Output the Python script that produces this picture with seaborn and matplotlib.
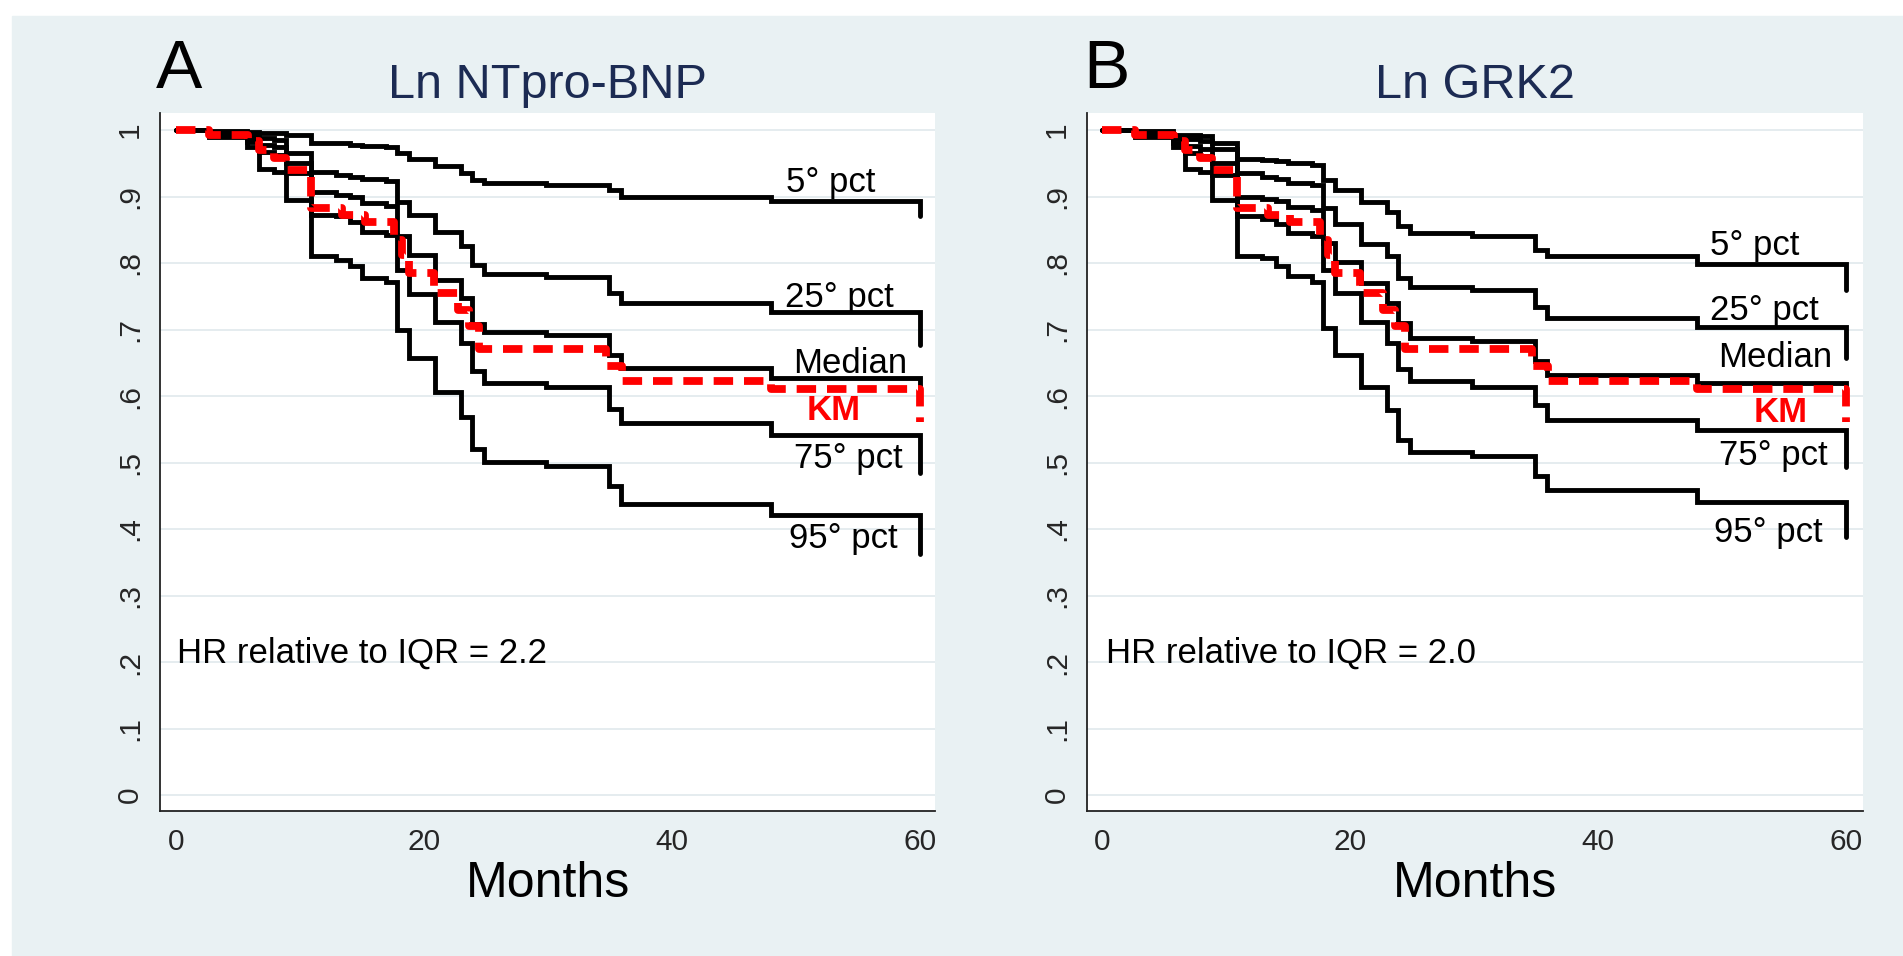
import pandas as pd
import seaborn as sns
import matplotlib.pyplot as plt
from matplotlib.patches import Rectangle

# event times (months) shared by the adjusted survival curves
months = [0, 2.7, 5.7, 6.7, 7.9, 8.9, 10.9, 12.9, 14.0, 15.0, 16.9, 17.8, 18.8,
          20.9, 23.0, 23.9, 24.8, 29.8, 34.9, 35.9, 48.0, 60.0]

# panel A: Ln NTpro-BNP
a_p5 = [1, .999, .997, .996, .995, .992, .981, .980, .977, .976, .974, .965, .957,
        .946, .936, .925, .920, .917, .910, .900, .893, .870]
a_p25 = [1, .997, .993, .988, .985, .965, .937, .932, .929, .926, .923, .892, .872,
         .847, .825, .797, .784, .779, .755, .740, .726, .677]
a_med = [1, .995, .988, .978, .974, .950, .907, .903, .899, .890, .886, .841, .812,
         .774, .747, .709, .697, .692, .662, .642, .627, .600]
a_p75 = [1, .993, .982, .967, .962, .935, .872, .870, .862, .847, .842, .789, .754,
         .712, .679, .637, .619, .613, .581, .559, .542, .484]
a_p95 = [1, .990, .975, .942, .937, .895, .810, .805, .795, .777, .772, .699, .657,
         .606, .569, .521, .501, .495, .464, .438, .421, .363]

# panel B: Ln GRK2
b_p5 = [1, .998, .993, .992, .991, .981, .957, .955, .953, .950, .948, .925, .910,
        .892, .877, .855, .845, .840, .820, .810, .798, .759]
b_p25 = [1, .996, .990, .986, .983, .971, .935, .930, .927, .920, .917, .882, .858,
         .829, .810, .777, .764, .759, .734, .717, .704, .657]
b_med = [1, .994, .986, .976, .972, .950, .900, .897, .893, .885, .880, .830, .802,
         .770, .740, .710, .687, .682, .652, .632, .619, .598]
b_p75 = [1, .992, .981, .966, .961, .932, .870, .866, .858, .845, .840, .790, .755,
         .712, .680, .640, .622, .614, .586, .564, .549, .494]
b_p95 = [1, .990, .975, .942, .937, .895, .810, .807, .795, .780, .772, .702, .662,
         .614, .579, .534, .516, .510, .479, .459, .441, .388]

# Kaplan-Meier estimate (same cohort in both panels)
km_months = [0, 2.7, 5.8, 6.7, 7.9, 8.9, 10.9, 13.4, 15.2, 17.6, 18.2, 18.8, 20.8,
             22.7, 23.6, 24.4, 34.7, 36.0, 48.0, 60.0]
km_surv = [1, .992, .984, .970, .958, .940, .882, .872, .862, .835, .812, .785, .755,
           .730, .705, .671, .645, .623, .610, .561]

curve_names = ["5° pct", "25° pct", "Median", "75° pct", "95° pct"]
y_ticks = [0, .1, .2, .3, .4, .5, .6, .7, .8, .9, 1]
y_labels = ["0", ".1", ".2", ".3", ".4", ".5", ".6", ".7", ".8", ".9", "1"]
x_ticks = [0, 20, 40, 60]

BG = "#E9F1F3"
NAVY = "#1C2B53"

sns.set_style("white")
plt.rcParams["font.family"] = ["Liberation Sans", "DejaVu Sans"]

W, H = 1903, 956
fig = plt.figure(figsize=(W / 100, H / 100), dpi=100, facecolor="white")
fig.patches.append(Rectangle((12 / W, 0), 1, 940 / H, transform=fig.transFigure,
                             color=BG, zorder=-10))


def panel(left, right, xlim, curves, letter, title, hr_text, labels, hr_x):
    ax = fig.add_axes([left / W, 1 - 811 / H, (right - left) / W, 698 / H])
    ax.set_facecolor("white")
    for vals in curves:
        sns.lineplot(x=months, y=vals, ax=ax, drawstyle="steps-post", color="black",
                     estimator=None, sort=False)
    n_black = len(ax.lines)
    sns.lineplot(x=km_months, y=km_surv, ax=ax, drawstyle="steps-post", color="red",
                 estimator=None, sort=False)
    for i, line in enumerate(ax.lines):
        if i < n_black:
            line.set_linewidth(3.5)
            line.set_solid_joinstyle("miter")
        else:
            line.set_linewidth(5.6)
            line.set_linestyle((0, (2.5, 1.4)))
            line.set_dash_capstyle("butt")
            line.set_zorder(5)

    ax.set_xlim(xlim)
    ax.set_ylim(-0.024, 1.0256)
    ax.set_xticks(x_ticks)
    ax.set_yticks(y_ticks)
    ax.set_yticklabels(y_labels, rotation=90, va="center")
    ax.tick_params(axis="x", length=7, width=1.2, pad=5, labelsize=21.5, color="#222222")
    ax.tick_params(axis="y", length=7.5, width=1.2, pad=4, labelsize=21.5, color="#222222")
    ax.grid(axis="y", color="#E3EBEE", linewidth=1.3)
    ax.set_axisbelow(True)
    for side in ["top", "right"]:
        ax.spines[side].set_visible(False)
    for side in ["left", "bottom"]:
        ax.spines[side].set_color("#222222")
        ax.spines[side].set_linewidth(1.3)
    ax.set_xlabel("")
    ax.set_ylabel("")

    cx = (left + right) / 2 / W
    fig.text(cx, 1 - 98 / H, title, ha="center", va="baseline", fontsize=35, color=NAVY)
    fig.text(cx, 1 - 897 / H, "Months", ha="center", va="baseline", fontsize=36, color="black")
    fig.text((left - 4) / W, 1 - 88 / H, letter, ha="left", va="baseline", fontsize=50,
             color="black")

    for (name, (lx, ly)) in zip(curve_names, labels[:5]):
        ax.text(lx, ly, name, ha="center", va="baseline", fontsize=25, color="black")
    kx, ky = labels[5]
    ax.text(kx, ky, "KM", ha="center", va="baseline", fontsize=25, color="red",
            fontweight="bold")
    ax.text(hr_x, 0.199, hr_text, ha="left", va="baseline", fontsize=25, color="black")
    return ax


panel(160, 935, (-1.29, 61.2), [a_p5, a_p25, a_med, a_p75, a_p95], "A", "Ln NTpro-BNP",
      "HR relative to IQR = 2.2",
      [(52.8, .907), (53.5, .734), (54.4, .635), (54.2, .492), (53.8, .371), (53.0, .564)],
      0.1)
panel(1087, 1863, (-1.21, 61.37), [b_p5, b_p25, b_med, b_p75, b_p95], "B", "Ln GRK2",
      "HR relative to IQR = 2.0",
      [(52.6, .812), (53.4, .714), (54.3, .644), (54.1, .496), (53.7, .381), (54.7, .561)],
      0.35)

fig.savefig("out.png", dpi=100, facecolor="white")
